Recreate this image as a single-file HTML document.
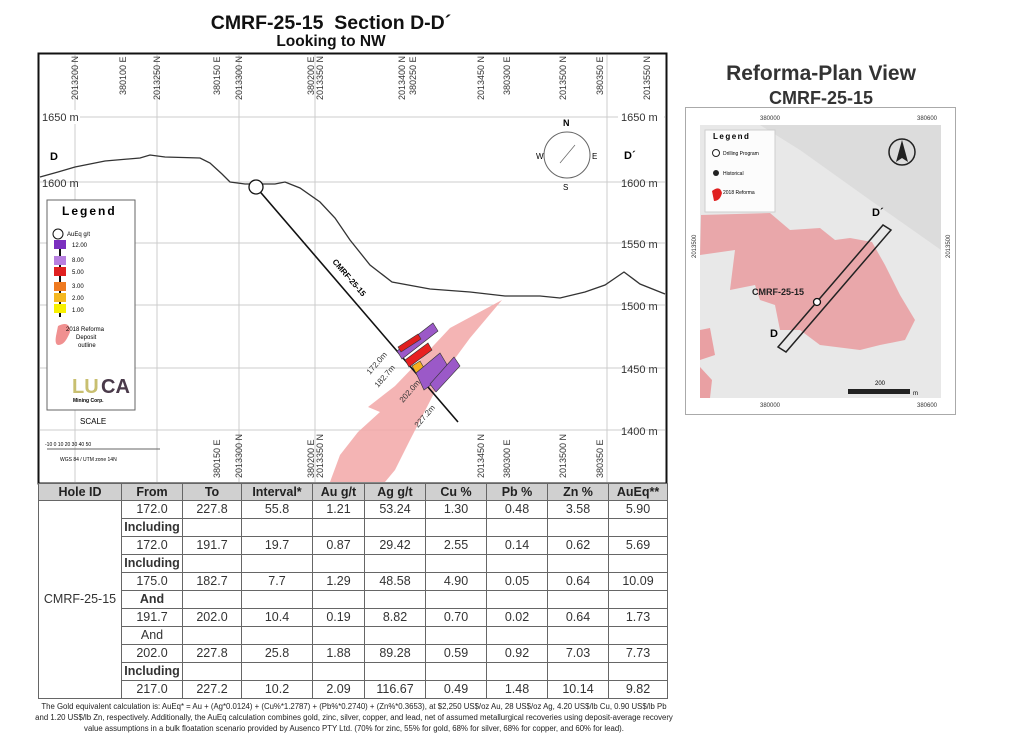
<!DOCTYPE html>
<html><head><meta charset="utf-8">
<style>
body{margin:0;width:1024px;height:743px;background:#fff;font-family:"Liberation Sans",sans-serif;overflow:hidden;position:relative}
.t{position:absolute;white-space:nowrap}
table{position:absolute;left:38px;top:483px;width:629px;table-layout:fixed;border-collapse:collapse;font-size:12.5px;color:#333}
td{border:1px solid #666;height:17px;padding:0;text-align:center;line-height:17px}
th{background:#d0d0d0;border:1px solid #666;height:16px;padding:0;line-height:16px;font-size:12.5px;color:#222}
</style></head><body>
<div class="t" style="left:0;width:662px;text-align:center;top:12px;font-size:19.5px;font-weight:bold;color:#111">CMRF-25-15&nbsp; Section D-D´</div>
<div class="t" style="left:0;width:662px;text-align:center;top:33px;font-size:15.5px;font-weight:bold;color:#111">Looking to NW</div>
<svg width="1024" height="743" style="position:absolute;left:0;top:0" font-family="Liberation Sans,sans-serif">
<rect x="38.5" y="53.5" width="628" height="430" fill="#fff" stroke="#111" stroke-width="2"/>
<g stroke="#ccc" stroke-width="1">
<line x1="40" y1="117" x2="665" y2="117"/><line x1="40" y1="182" x2="665" y2="182"/><line x1="40" y1="243" x2="665" y2="243"/><line x1="40" y1="305" x2="665" y2="305"/><line x1="40" y1="368" x2="665" y2="368"/><line x1="40" y1="430" x2="665" y2="430"/>
<line x1="75" y1="55" x2="75" y2="482"/><line x1="157" y1="55" x2="157" y2="482"/><line x1="239" y1="55" x2="239" y2="482"/><line x1="315" y1="55" x2="315" y2="482"/><line x1="607" y1="55" x2="607" y2="482"/>
</g>
<g font-size="9" fill="#333">
<text transform="translate(78,100) rotate(-90)">2013200 N</text>
<text transform="translate(126,95) rotate(-90)">380100 E</text>
<text transform="translate(160,100) rotate(-90)">2013250 N</text>
<text transform="translate(220,95) rotate(-90)">380150 E</text>
<text transform="translate(242,100) rotate(-90)">2013300 N</text>
<text transform="translate(314,95) rotate(-90)">380200 E</text>
<text transform="translate(323,100) rotate(-90)">2013350 N</text>
<text transform="translate(405,100) rotate(-90)">2013400 N</text>
<text transform="translate(416,95) rotate(-90)">380250 E</text>
<text transform="translate(484,100) rotate(-90)">2013450 N</text>
<text transform="translate(510,95) rotate(-90)">380300 E</text>
<text transform="translate(566,100) rotate(-90)">2013500 N</text>
<text transform="translate(603,95) rotate(-90)">380350 E</text>
<text transform="translate(650,100) rotate(-90)">2013550 N</text>
<text transform="translate(220,478) rotate(-90)">380150 E</text>
<text transform="translate(242,478) rotate(-90)">2013300 N</text>
<text transform="translate(314,478) rotate(-90)">380200 E</text>
<text transform="translate(323,478) rotate(-90)">2013350 N</text>
<text transform="translate(484,478) rotate(-90)">2013450 N</text>
<text transform="translate(510,478) rotate(-90)">380300 E</text>
<text transform="translate(566,478) rotate(-90)">2013500 N</text>
<text transform="translate(603,478) rotate(-90)">380350 E</text>
</g>
<g font-size="11" fill="#333">
<rect x="40" y="110" width="40" height="14" fill="#fff"/><text x="42" y="121">1650 m</text>
<text x="42" y="187">1600 m</text>
<rect x="618" y="110" width="46" height="14" fill="#fff"/><text x="621" y="121">1650 m</text>
<text x="621" y="187">1600 m</text><text x="621" y="248">1550 m</text><text x="621" y="310">1500 m</text><text x="621" y="373">1450 m</text><text x="621" y="435">1400 m</text>
</g>
<text x="50" y="160" font-size="11" font-weight="bold">D</text><text x="624" y="159" font-size="11" font-weight="bold">D´</text>
<polygon points="502,300 470,338 445,372 428,405 410,440 395,470 385,482 330,482 340,455 358,432 380,412 368,407 395,386 420,360 450,328" fill="#f2a7a7" opacity="0.85"/>
<polyline points="40,177 58,172 75,167 105,161 140,158 150,155 165,157 200,158 210,163 222,174 230,182 245,184 275,184 285,182 300,188 320,202 335,218 350,240 370,265 392,282 430,289 470,292 505,296 540,296 560,298 585,292 605,285 624,272 640,284 665,294" fill="none" stroke="#333" stroke-width="1.3"/>
<line x1="256" y1="187" x2="458" y2="422" stroke="#111" stroke-width="1.6"/>
<circle cx="256" cy="187" r="7" fill="#fff" stroke="#111" stroke-width="1.3"/>
<text transform="translate(332,262) rotate(49)" font-size="8" font-weight="bold">CMRF-25-15</text>
<g stroke="#333" stroke-width="0.6">
<polygon points="397,351 433,323 438,331 402,359" fill="#9b59c8"/>
<polygon points="398,347 418,334 421,339 401,352" fill="#e02020"/>
<polygon points="405,360 428,343 432,350 409,367" fill="#e82020"/>
<polygon points="412,366 420,361 424,368 416,373" fill="#f5b020"/>
<polygon points="416,373 440,353 446,363 450,371 424,390" fill="#9b59c8"/>
<polygon points="430,384 454,357 460,366 436,392" fill="#9b59c8"/>
</g>
<g font-size="8" fill="#333">
<text transform="translate(370,375) rotate(-49)">172.0m</text>
<text transform="translate(378,388) rotate(-49)">182.7m</text>
<text transform="translate(403,403) rotate(-49)">202.0m</text>
<text transform="translate(418,428) rotate(-49)">227.2m</text>
</g>
<circle cx="567" cy="155" r="23" fill="none" stroke="#666"/>
<text x="563" y="126" font-size="9" font-weight="bold">N</text><text x="563" y="190" font-size="8">S</text><text x="536" y="159" font-size="8">W</text><text x="592" y="159" font-size="8">E</text>
<line x1="560" y1="163" x2="575" y2="145" stroke="#666" stroke-width="0.7"/>
<rect x="47" y="200" width="88" height="210" fill="#fff" stroke="#666"/>
<text x="62" y="215" font-size="12" font-weight="bold" letter-spacing="2">Legend</text>
<circle cx="58" cy="234" r="5" fill="#fff" stroke="#111"/><text x="67" y="236" font-size="6">AuEq g/t</text>
<line x1="60" y1="240" x2="60" y2="317" stroke="#111" stroke-width="2"/>
<rect x="54" y="240" width="12" height="9" fill="#7b2fbf"/><text x="72" y="247" font-size="6">12.00</text>
<rect x="54" y="256" width="12" height="9" fill="#b77fe0"/><text x="72" y="262" font-size="6">8.00</text>
<rect x="54" y="267" width="12" height="9" fill="#e02020"/><text x="72" y="274" font-size="6">5.00</text>
<rect x="54" y="282" width="12" height="9" fill="#ef7a20"/><text x="72" y="288" font-size="6">3.00</text>
<rect x="54" y="293" width="12" height="9" fill="#f5b820"/><text x="72" y="300" font-size="6">2.00</text>
<rect x="54" y="304" width="12" height="9" fill="#f7f000"/><text x="72" y="312" font-size="6">1.00</text>
<path d="M58,326 q12,-6 12,6 q-4,10 -8,12 q-8,4 -6,-8 z" fill="#f09090"/>
<text x="66" y="331" font-size="6">2018 Reforma</text><text x="76" y="339" font-size="6">Deposit</text><text x="78" y="347" font-size="6">outline</text>
<text x="72" y="393" font-size="20" font-weight="bold" fill="#c8bf70">LU</text><text x="101" y="393" font-size="20" font-weight="bold" fill="#4a3a4a">CA</text>
<text x="73" y="402" font-size="5" font-weight="bold">Mining Corp.</text>
<text x="80" y="424" font-size="8">SCALE</text>
<text x="45" y="446" font-size="5">-10 0 10 20 30 40 50</text>
<line x1="47" y1="449" x2="160" y2="449" stroke="#666"/>
<text x="60" y="461" font-size="5">WGS 84 / UTM zone 14N</text>
<text x="821" y="80" text-anchor="middle" font-size="21" font-weight="bold" fill="#333">Reforma-Plan View</text>
<text x="821" y="104" text-anchor="middle" font-size="18" font-weight="bold" fill="#333">CMRF-25-15</text>
<rect x="685.5" y="107.5" width="270" height="307" fill="#fff" stroke="#aaa"/>
<rect x="700" y="125" width="241" height="273" fill="#e8e8e8"/>
<path d="M760,125 L941,125 L941,250 L870,200 L800,150 Z" fill="#dcdcdc"/>
<polygon points="701,215 770,213 790,230 820,228 835,240 850,238 872,242 885,265 900,295 915,320 905,340 880,345 860,350 820,345 800,330 780,330 775,305 760,300 755,285 730,290 735,250 700,255" fill="#e9a0a3" opacity="0.9"/>
<polygon points="700,330 710,328 715,355 700,360" fill="#e9a0a3"/>
<polygon points="700,367 712,380 710,398 700,398" fill="#e9a0a3"/>
<polygon points="778,347 883,225 891,230 786,352" fill="none" stroke="#222" stroke-width="1.5"/>
<rect x="705" y="130" width="70" height="82" fill="#fff" opacity="0.9" stroke="#ccc"/>
<text x="713" y="139" font-size="8" font-weight="bold" letter-spacing="1.5">Legend</text>
<circle cx="716" cy="153" r="3.5" fill="#fff" stroke="#222"/><text x="723" y="155" font-size="5">Drilling Program</text>
<circle cx="716" cy="173" r="3" fill="#222"/><text x="723" y="175" font-size="5">Historical</text>
<path d="M712,191 q8,-6 10,2 q-2,8 -8,8 z" fill="#e02020"/><text x="723" y="194" font-size="5">2018 Reforma</text>
<circle cx="902" cy="152" r="13" fill="none" stroke="#222" stroke-width="1.5"/><polygon points="902,140 896,162 902,158 908,162" fill="#222"/>
<text x="872" y="216" font-size="11" font-weight="bold">D´</text><text x="770" y="337" font-size="11" font-weight="bold">D</text>
<text x="752" y="295" font-size="9" font-weight="bold" fill="#222">CMRF-25-15</text>
<circle cx="817" cy="302" r="3.5" fill="#fff" stroke="#111" stroke-width="1.3"/>
<rect x="848" y="389" width="62" height="5" fill="#222"/><text x="913" y="395" font-size="6">m</text><text x="875" y="385" font-size="6">200</text>
<text x="760" y="120" font-size="6" fill="#333">380000</text><text x="917" y="120" font-size="6" fill="#333">380600</text>
<text x="760" y="407" font-size="6" fill="#333">380000</text><text x="917" y="407" font-size="6" fill="#333">380600</text>
<text transform="translate(696,258) rotate(-90)" font-size="6" fill="#333">2013500</text>
<text transform="translate(950,258) rotate(-90)" font-size="6" fill="#333">2013500</text>
</svg>
<table>
<colgroup><col style="width:83px"><col style="width:61px"><col style="width:59px"><col style="width:71px"><col style="width:52px"><col style="width:61px"><col style="width:61px"><col style="width:61px"><col style="width:61px"><col style="width:59px"></colgroup>
<tr><th>Hole ID</th><th>From</th><th>To</th><th>Interval*</th><th>Au g/t</th><th>Ag g/t</th><th>Cu %</th><th>Pb %</th><th>Zn %</th><th>AuEq**</th></tr>
<tr><td rowspan="11">CMRF-25-15</td><td>172.0</td><td>227.8</td><td>55.8</td><td>1.21</td><td>53.24</td><td>1.30</td><td>0.48</td><td>3.58</td><td>5.90</td></tr>
<tr><td><b>Including</b></td><td></td><td></td><td></td><td></td><td></td><td></td><td></td><td></td></tr>
<tr><td>172.0</td><td>191.7</td><td>19.7</td><td>0.87</td><td>29.42</td><td>2.55</td><td>0.14</td><td>0.62</td><td>5.69</td></tr>
<tr><td><b>Including</b></td><td></td><td></td><td></td><td></td><td></td><td></td><td></td><td></td></tr>
<tr><td>175.0</td><td>182.7</td><td>7.7</td><td>1.29</td><td>48.58</td><td>4.90</td><td>0.05</td><td>0.64</td><td>10.09</td></tr>
<tr><td><b>And</b></td><td></td><td></td><td></td><td></td><td></td><td></td><td></td><td></td></tr>
<tr><td>191.7</td><td>202.0</td><td>10.4</td><td>0.19</td><td>8.82</td><td>0.70</td><td>0.02</td><td>0.64</td><td>1.73</td></tr>
<tr><td>And</td><td></td><td></td><td></td><td></td><td></td><td></td><td></td><td></td></tr>
<tr><td>202.0</td><td>227.8</td><td>25.8</td><td>1.88</td><td>89.28</td><td>0.59</td><td>0.92</td><td>7.03</td><td>7.73</td></tr>
<tr><td><b>Including</b></td><td></td><td></td><td></td><td></td><td></td><td></td><td></td><td></td></tr>
<tr><td>217.0</td><td>227.2</td><td>10.2</td><td>2.09</td><td>116.67</td><td>0.49</td><td>1.48</td><td>10.14</td><td>9.82</td></tr>
</table>
<div class="t" style="left:34px;width:640px;top:701px;font-size:7.8px;line-height:11px;text-align:center;white-space:normal;color:#222">The Gold equivalent calculation is: AuEq* = Au + (Ag*0.0124) + (Cu%*1.2787) + (Pb%*0.2740) + (Zn%*0.3653), at $2,250 US$/oz Au, 28 US$/oz Ag, 4.20 US$/lb Cu, 0.90 US$/lb Pb and 1.20 US$/lb Zn, respectively. Additionally, the AuEq calculation combines gold, zinc, silver, copper, and lead, net of assumed metallurgical recoveries using deposit-average recovery value assumptions in a bulk floatation scenario provided by Ausenco PTY Ltd. (70% for zinc, 55% for gold, 68% for silver, 68% for copper, and 60% for lead).</div>
</body></html>
